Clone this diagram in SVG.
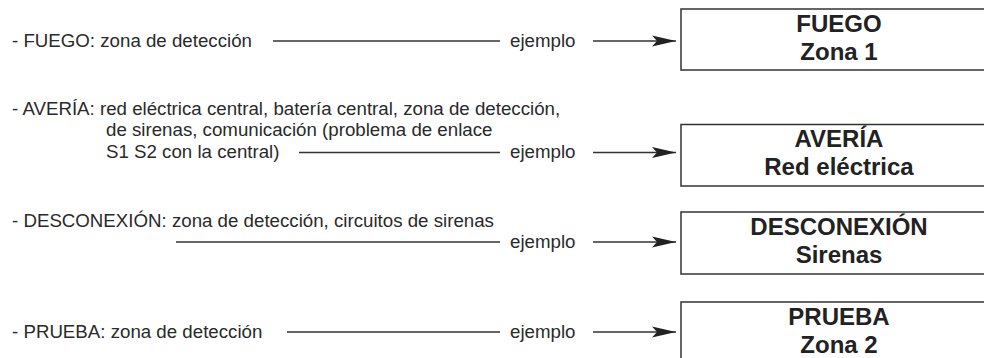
<svg xmlns="http://www.w3.org/2000/svg" width="984" height="358" viewBox="0 0 984 358">
<style>
.t{font-family:"Liberation Sans",Arial,sans-serif;font-size:18.7px;fill:#2a2a2a}
.b{font-family:"Liberation Sans",Arial,sans-serif;font-size:24px;font-weight:bold;fill:#222;text-anchor:middle}
.ln{stroke:#333;stroke-width:1.5;fill:none}
.box{fill:#fff;stroke:#333;stroke-width:1.5}
</style>
<defs>
<marker id="ah" viewBox="0 0 24 12" refX="24" refY="6" markerWidth="24" markerHeight="12" markerUnits="userSpaceOnUse" orient="auto">
<path d="M0,0.5 L24,6 L0,11.5 L5,6 Z" fill="#222"/>
</marker>
</defs>
<rect width="984" height="358" fill="#fff"/>
<g id="labels">
<text class="t" x="12" y="47">- FUEGO: zona de detección</text>
<text class="t" x="12" y="115">- AVERÍA: red eléctrica central, batería central, zona de detección,</text>
<text class="t" x="106" y="136">de sirenas, comunicación (problema de enlace</text>
<text class="t" x="106" y="158">S1 S2 con la central)</text>
<text class="t" x="12" y="227">- DESCONEXIÓN: zona de detección, circuitos de sirenas</text>
<text class="t" x="12" y="338">- PRUEBA: zona de detección</text>
<text class="t" x="510" y="47">ejemplo</text>
<text class="t" x="510" y="158">ejemplo</text>
<text class="t" x="510" y="248">ejemplo</text>
<text class="t" x="510" y="338">ejemplo</text>
</g>
<g id="connectors">
<line class="ln" x1="273" y1="41" x2="500" y2="41"/>
<line class="ln" x1="593" y1="41" x2="676" y2="41" marker-end="url(#ah)"/>
<line class="ln" x1="299" y1="152.5" x2="500" y2="152.5"/>
<line class="ln" x1="593" y1="152.5" x2="676" y2="152.5" marker-end="url(#ah)"/>
<line class="ln" x1="176" y1="242" x2="500" y2="242"/>
<line class="ln" x1="593" y1="242" x2="676" y2="242" marker-end="url(#ah)"/>
<line class="ln" x1="287" y1="332" x2="500" y2="332"/>
<line class="ln" x1="593" y1="332" x2="676" y2="332" marker-end="url(#ah)"/>
</g>
<g id="node-fuego">
<rect class="box" x="681" y="9" width="320" height="61"/>
<text class="b" x="839" y="32">FUEGO</text>
<text class="b" x="839" y="60">Zona 1</text>
</g>
<g id="node-averia">
<rect class="box" x="681" y="124.5" width="320" height="61.5"/>
<text class="b" x="839" y="147">AVERÍA</text>
<text class="b" x="839" y="175">Red eléctrica</text>
</g>
<g id="node-desconexion">
<rect class="box" x="681" y="212" width="320" height="62"/>
<text class="b" x="839" y="235">DESCONEXIÓN</text>
<text class="b" x="839" y="263">Sirenas</text>
</g>
<g id="node-prueba">
<rect class="box" x="681" y="302" width="320" height="70"/>
<text class="b" x="839" y="325">PRUEBA</text>
<text class="b" x="839" y="353">Zona 2</text>
</g>
</svg>
